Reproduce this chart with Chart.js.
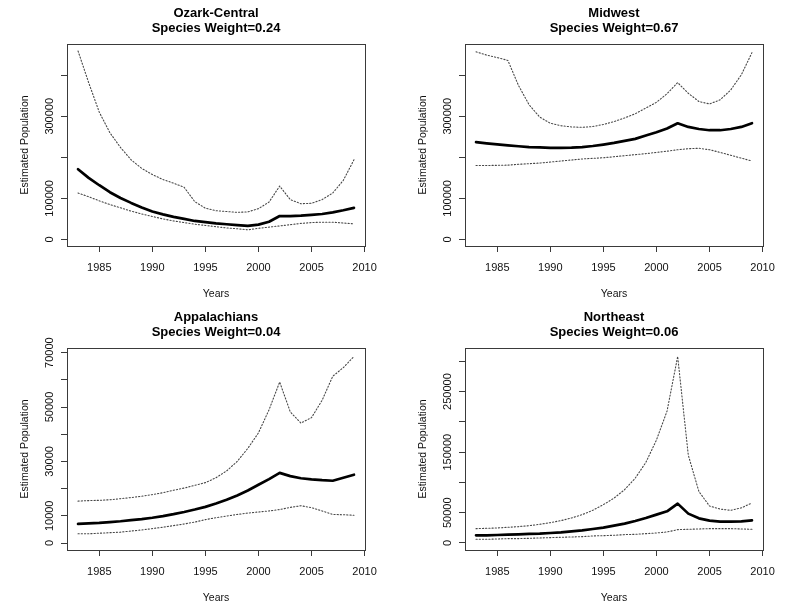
<!DOCTYPE html>
<html>
<head>
<meta charset="utf-8">
<title>Estimated Population by Region</title>
<script src="https://cdn.jsdelivr.net/npm/chart.js@4.4.1/dist/chart.umd.min.js"></script>
<style>
  html, body { margin: 0; padding: 0; background: #fff; }
  body { position: relative; width: 800px; height: 610px; overflow: hidden; }
  canvas { position: absolute; }
</style>
</head>
<body>
<canvas id="ozark" width="400" height="305" style="left:0;top:0"></canvas>
<canvas id="midwest" width="400" height="305" style="left:398px;top:0"></canvas>
<canvas id="appalachians" width="400" height="305" style="left:0;top:304px"></canvas>
<canvas id="northeast" width="400" height="305" style="left:398px;top:304px"></canvas>
<script>
const years = [1983, 1984, 1985, 1986, 1987, 1988, 1989, 1990, 1991, 1992, 1993, 1994, 1995, 1996,
  1997, 1998, 1999, 2000, 2001, 2002, 2003, 2004, 2005, 2006, 2007, 2008, 2009];
const xTicks = [1985, 1990, 1995, 2000, 2005, 2010];

// Ozark-Central
const ozarkMean = [171000, 150000, 132000, 115000, 101000, 89000, 78000, 68000, 61000, 55000, 50000, 45000, 42000, 39000,
  37000, 35000, 33000, 36000, 43000, 57000, 57000, 58000, 60000, 62000, 66000, 71000, 77000];
const ozarkUpper = [459000, 382000, 310000, 260000, 224000, 194000, 173000, 158000, 146000, 137000, 127000, 92000, 76000, 70000,
  68000, 66000, 67000, 75000, 91000, 130000, 97000, 87000, 88000, 97000, 113000, 144000, 194000];
const ozarkLower = [113000, 104000, 94000, 85000, 77000, 69000, 62000, 56000, 50000, 45000, 41000, 37000, 34000, 31000,
  28000, 26000, 23500, 27000, 30000, 33000, 36000, 39000, 41000, 42000, 42000, 40000, 38000];

// Midwest
const midwestMean = [237000, 234000, 231500, 229000, 227000, 225000, 224000, 223000, 223000, 223500, 225000, 227500, 231000, 235000,
  240000, 245000, 253000, 261000, 270000, 283000, 274000, 269000, 266000, 266000, 269000, 274000, 283000];
const midwestUpper = [457000, 449000, 443000, 436000, 375000, 328000, 298000, 283000, 277000, 274000, 273000, 275000, 280000, 287000,
  296000, 306000, 320000, 334000, 355000, 382000, 356000, 336000, 330000, 340000, 364000, 401000, 455000];
const midwestLower = [180000, 180000, 180500, 181000, 183000, 184500, 186000, 188500, 191000, 193500, 196000, 197500, 199000, 201500,
  204000, 206500, 209000, 212000, 215000, 218500, 221000, 222000, 218500, 212000, 205000, 198000, 191000];

// Appalachians
const appMean = [7000, 7200, 7400, 7700, 8000, 8400, 8800, 9300, 9900, 10600, 11400, 12300, 13300, 14500,
  15900, 17500, 19300, 21400, 23500, 25800, 24600, 23800, 23400, 23100, 22900, 24000, 25100];
const appUpper = [15400, 15600, 15700, 15900, 16300, 16700, 17200, 17800, 18500, 19400, 20200, 21200, 22200, 24000,
  26500, 30000, 34800, 40500, 49000, 59200, 48200, 44100, 46100, 52500, 61300, 64500, 68600];
const appLower = [3400, 3400, 3600, 3800, 4000, 4400, 4800, 5300, 5800, 6400, 7000, 7700, 8600, 9300,
  9900, 10500, 11000, 11400, 11800, 12300, 13100, 13700, 13000, 11800, 10500, 10400, 10200];

// Northeast
const neMean = [12700, 12700, 13200, 13800, 14300, 14900, 15400, 16500, 17600, 19300, 20900, 23100, 25300, 28600,
  31900, 36300, 41300, 46800, 52300, 65000, 48500, 40700, 36900, 35200, 35200, 35800, 37400];
const neUpper = [23700, 24200, 24800, 25900, 27000, 28600, 30800, 33600, 36900, 41300, 46800, 54000, 63300, 74000,
  88000, 107000, 133000, 170000, 218000, 308000, 145000, 85000, 61000, 56000, 54000, 58000, 66000];
const neLower = [6100, 6100, 6600, 7200, 7200, 7700, 8300, 8800, 9400, 9900, 10500, 11600, 12100, 12700,
  13800, 14300, 15400, 16500, 18200, 22000, 22600, 23100, 23700, 23700, 23700, 23100, 22600];

// y axis ticks (R drops labels that would overlap)
const bigTicks = [0, 100000, 200000, 300000, 400000];
const bigLabels = ['0', '100000', '', '300000', ''];
const appTicks = [0, 10000, 20000, 30000, 40000, 50000, 60000, 70000];
const appLabels = ['0', '10000', '', '30000', '', '50000', '', '70000'];
const neTicks = [0, 50000, 100000, 150000, 200000, 250000, 300000];
const neLabels = ['0', '50000', '', '150000', '', '250000', ''];

const FONT = '"Liberation Sans", Arial, Helvetica, sans-serif';
const TICK_SIZE = 11;
Chart.defaults.font.family = FONT;
Chart.defaults.color = '#111';

const measureCtx = document.createElement('canvas').getContext('2d');
measureCtx.font = TICK_SIZE + 'px ' + FONT;

// frame round the plot region and the two-line main title, like R's plot()
const boxAndTitle = {
  id: 'boxAndTitle',
  afterDraw(chart, args, opts) {
    const { ctx, chartArea: a } = chart;
    ctx.save();
    ctx.strokeStyle = '#3a3a3a';
    ctx.lineWidth = 1;
    ctx.strokeRect(Math.round(a.left) + 0.5, Math.round(a.top) + 0.5,
      Math.round(a.right - a.left), Math.round(a.bottom - a.top));
    ctx.fillStyle = '#000';
    ctx.font = 'bold 13px ' + FONT;
    ctx.textAlign = 'center';
    ctx.textBaseline = 'alphabetic';
    const cx = (a.left + a.right) / 2;
    opts.lines.forEach((t, i) => ctx.fillText(t, cx, 17 + i * 15));
    ctx.restore();
  }
};

const pairs = vals => years.map((yr, i) => ({ x: yr, y: vals[i] }));

function makePanel(id, titleLines, mean, upper, lower, yMin, yMax, yTicks, yLabels) {
  const widest = Math.max(...yLabels.map(l => measureCtx.measureText(l).width));
  const dotted = { borderColor: 'rgba(0,0,0,0.72)', borderWidth: 1.1, borderDash: [1.2, 2] };

  new Chart(document.getElementById(id), {
    type: 'line',
    data: {
      datasets: [
        { data: pairs(upper), ...dotted },
        { data: pairs(lower), ...dotted },
        { data: pairs(mean), borderColor: '#000', borderWidth: 2.7 }
      ]
    },
    options: {
      responsive: false,
      animation: false,
      layout: { padding: { top: 44, right: 35, bottom: 0, left: 0 } },
      elements: { point: { radius: 0 }, line: { tension: 0, borderCapStyle: 'round', borderJoinStyle: 'round' } },
      plugins: {
        legend: { display: false },
        tooltip: { enabled: false },
        boxAndTitle: { lines: titleLines }
      },
      scales: {
        x: {
          type: 'linear',
          min: 1981.96,
          max: 2010.04,
          afterBuildTicks: s => { s.ticks = xTicks.map(v => ({ value: v })); },
          afterFit: s => { s.height = 59; },
          grid: { drawOnChartArea: false, drawTicks: true, tickLength: 6, color: '#3a3a3a' },
          border: { display: false },
          ticks: { font: { size: TICK_SIZE }, padding: 9, maxRotation: 0, autoSkip: false, callback: v => String(v) },
          title: { display: true, text: 'Years', font: { size: 10.5 }, padding: { top: 0, bottom: 5 } }
        },
        y: {
          min: yMin,
          max: yMax,
          afterBuildTicks: s => { s.ticks = yTicks.map(v => ({ value: v })); },
          afterFit: s => { s.width = 67; },
          grid: { drawOnChartArea: false, drawTicks: true, tickLength: 6, color: '#3a3a3a' },
          border: { display: false },
          ticks: {
            font: { size: TICK_SIZE },
            minRotation: 90,
            maxRotation: 90,
            crossAlign: 'center',
            padding: 11 - widest / 2,
            autoSkip: false,
            callback: v => yLabels[yTicks.indexOf(v)]
          },
          title: { display: true, text: 'Estimated Population', font: { size: 10.5 }, padding: { top: 18.5, bottom: 0 } }
        }
      }
    },
    plugins: [boxAndTitle]
  });
}

makePanel('ozark', ['Ozark-Central', 'Species Weight=0.24'], ozarkMean, ozarkUpper, ozarkLower,
  -16000, 476000, bigTicks, bigLabels);
makePanel('midwest', ['Midwest', 'Species Weight=0.67'], midwestMean, midwestUpper, midwestLower,
  -16000, 476000, bigTicks, bigLabels);
makePanel('appalachians', ['Appalachians', 'Species Weight=0.04'], appMean, appUpper, appLower,
  -2570, 71700, appTicks, appLabels);
makePanel('northeast', ['Northeast', 'Species Weight=0.06'], neMean, neUpper, neLower,
  -11600, 322000, neTicks, neLabels);
</script>
</body>
</html>
